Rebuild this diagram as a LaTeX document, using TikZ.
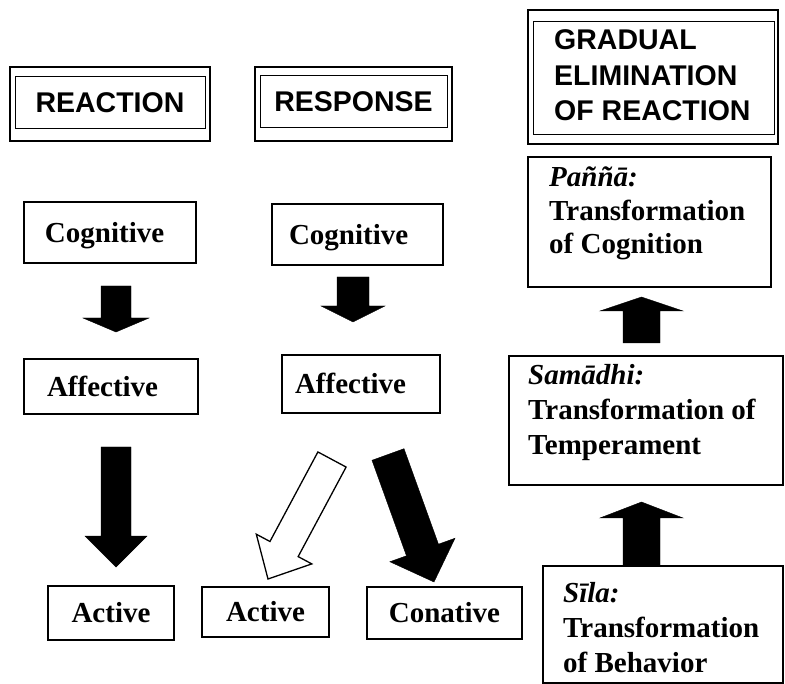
\documentclass[tikz,border=0pt]{standalone}
\usepackage{fontspec}
\setmainfont{Liberation Serif}
\newfontfamily\sansb{Liberation Sans}
\newcommand\hfont{\sansb\fontsize{28.5}{35.5}\selectfont\bfseries}
\newcommand\tfont{\rmfamily\fontsize{29}{34}\selectfont\bfseries}
\newcommand\padl[2]{\makebox[#1pt][l]{#2}}
\begin{document}
\begin{tikzpicture}[x=1pt,y=-1pt,
  outerb/.style={draw, line width=1.6pt, inner sep=0pt},
  innerb/.style={draw, line width=0.9pt, inner sep=0pt, font=\hfont, text height=20.4pt, text depth=0pt},
  cell/.style={draw, line width=1.3pt, inner ysep=0pt, font=\tfont, text height=19.2pt, text depth=0pt},
  mbox/.style={draw, line width=1.3pt, inner sep=0pt},
  mtext/.style={inner sep=0pt, anchor=base west, font=\tfont},
  blk/.style={fill=black, draw=black, line width=0.4pt, line join=miter},
  hol/.style={fill=white, draw=black, line width=1.3pt, line join=miter}]
\useasboundingbox[fill=white] (0,0) rectangle (785,684);

% header boxes
\node[outerb, minimum width=200, minimum height=74] (reactO) at (110,104) {};
\node[innerb, minimum width=190, minimum height=52] (react) at (110,102) {REACTION};
\node[outerb, minimum width=197, minimum height=74] (respO) at (353.5,104) {};
\node[innerb, minimum width=187, minimum height=52] (resp) at (353.5,101.5) {RESPONSE};
\node[outerb, minimum width=250, minimum height=134] (gradO) at (653,77) {};
\node[draw, line width=0.9pt, inner sep=0pt, minimum width=241, minimum height=113] (grad) at (653.5,77.5) {};
\node[inner sep=0pt, anchor=base west, font=\hfont] (gradtxt) at (554,50)
  {\vtop{\baselineskip=35.5pt\hbox{GRADUAL}\hbox{ELIMINATION}\hbox{OF REACTION}}};

% reaction column
\node[cell, minimum width=172, minimum height=61, inner xsep=21] (cog1) at (110,232.5) {\padl{130}{Cognitive}};
\node[cell, minimum width=174, minimum height=55, inner xsep=23] (aff1) at (111,386.5) {\padl{128}{Affective}};
\node[cell, minimum width=126, minimum height=54, inner xsep=0pt] (act1) at (111,613) {Active};

% response column
\node[cell, minimum width=171, minimum height=61, inner xsep=17] (cog2) at (357.5,234.5) {\padl{137}{Cognitive}};
\node[cell, minimum width=158, minimum height=58, inner xsep=13] (aff2) at (361,384) {\padl{132}{Affective}};
\node[cell, minimum width=127, minimum height=50, inner xsep=0pt] (act2) at (265.5,612) {Active};
\node[cell, minimum width=155, minimum height=52, inner xsep=0pt] (con) at (444.5,613) {Conative};

% elimination column
\node[mbox, minimum width=243, minimum height=130] (panna) at (649.5,222) {};
\node[mtext] (pannatxt) at (549,187)
  {\vtop{\baselineskip=33.5pt\hbox{\textit{Paññā:}}\hbox{Transformation}\hbox{of Cognition}}};
\node[mbox, minimum width=274, minimum height=129] (sama) at (646,420.5) {};
\node[mtext] (samatxt) at (528,385)
  {\vtop{\baselineskip=35pt\hbox{\textit{Samādhi:}}\hbox{Transformation of}\hbox{Temperament}}};
\node[mbox, minimum width=240, minimum height=117] (sila) at (663,624.5) {};
\node[mtext] (silatxt) at (563,602)
  {\vtop{\baselineskip=35pt\hbox{\textit{Sīla:}}\hbox{Transformation}\hbox{of Behavior}}};

% block arrows
\path[blk] (101,286) -- (131,286) -- (131,318) -- (149,318) -- (116,332) -- (83,318) -- (101,318) -- cycle;
\path[blk] (101,447) -- (131,447) -- (131,536) -- (147,536) -- (116,567) -- (85,536) -- (101,536) -- cycle;
\path[blk] (337,277) -- (369,277) -- (369,306) -- (385,306) -- (353,322) -- (321,306) -- (337,306) -- cycle;
\path[hol] (317.9,451.95) -- (346.1,467.05) -- (298.15,556.6) -- (311.8,563.9) -- (268,579) -- (256.3,534.2) -- (269.95,541.5) -- cycle;
\path[blk] (372,460.3) -- (404,448.7) -- (438.46,544.2) -- (455,538.25) -- (434,582) -- (389.9,561.75) -- (406.46,555.8) -- cycle;
\path[blk] (623,343) -- (660,343) -- (660,311) -- (683,311) -- (641.5,297) -- (600,311) -- (623,311) -- cycle;
\path[blk] (623,565) -- (660,565) -- (660,518) -- (683,518) -- (641.5,502) -- (600,518) -- (623,518) -- cycle;
\end{tikzpicture}
\end{document}
